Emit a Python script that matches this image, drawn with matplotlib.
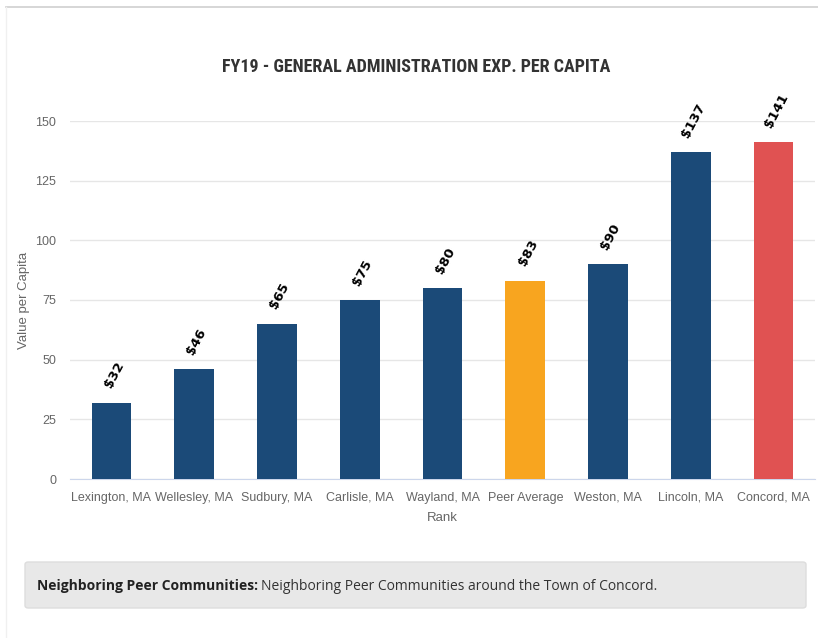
import matplotlib
matplotlib.use("Agg")
import matplotlib.pyplot as plt
from matplotlib import font_manager
from matplotlib.patches import FancyBboxPatch
from matplotlib.lines import Line2D

# FY19 general administration expenditure per capita
communities = ["Lexington, MA", "Wellesley, MA", "Sudbury, MA", "Carlisle, MA",
               "Wayland, MA", "Peer Average", "Weston, MA", "Lincoln, MA", "Concord, MA"]
values = [32, 46, 65, 75, 80, 83, 90, 137, 141]
bar_colors = ["#1b4a78"] * 5 + ["#f8a51f", "#1b4a78", "#1b4a78", "#e05252"]
yticks = [0, 25, 50, 75, 100, 125, 150]

W, H = 818, 638
fig = plt.figure(figsize=(W / 100, H / 100), dpi=100)
fig.patch.set_facecolor("white")

# page frame lines
fig.add_artist(Line2D([6 / W, 1], [1 - 7 / H, 1 - 7 / H], color="#cfcfcf", lw=1.2))
fig.add_artist(Line2D([6 / W, 6 / W], [0, 1 - 7 / H], color="#f0f0f0", lw=1))

ax = fig.add_axes([70 / W, 1 - 479 / H, 745 / W, 358 / H])
x = range(len(communities))
ax.bar(x, values, width=0.48, color=bar_colors, zorder=3)
ax.set_xlim(-0.5, len(communities) - 0.5)
ax.set_ylim(0, 150)
ax.set_yticks(yticks)
ax.set_xticks(list(x))
ax.set_xticklabels(communities, family="Liberation Sans")
for lab in ax.get_yticklabels():
    lab.set_family("Liberation Sans")
ax.grid(axis="y", color="#e6e6e6", lw=1, zorder=0)
for s in ["top", "right", "left"]:
    ax.spines[s].set_visible(False)
ax.spines["bottom"].set_color("#ccd6eb")
ax.tick_params(axis="both", length=0, colors="#666666", labelsize=9)
ax.tick_params(axis="x", pad=9)
ax.tick_params(axis="y", pad=10)
ax.set_xlabel("Rank", color="#666666", fontsize=9.5, labelpad=6, family="Liberation Sans")
ax.set_ylabel("Value per Capita", color="#666666", fontsize=9.5, family="Liberation Sans")
ax.yaxis.set_label_coords(-40 / 745, 0.5)

for i, v in enumerate(values):
    ax.annotate(f"${v}", (i, v), xytext=(2, 9), textcoords="offset points",
                ha="center", va="bottom", rotation=62, fontsize=9.5,
                fontweight="bold", color="black", annotation_clip=False)

# narrowest bold face that is installed
installed = {f.name for f in font_manager.fontManager.ttflist}
title_fam = [f for f in ["Roboto Condensed", "DejaVu Sans Condensed", "Liberation Sans Narrow",
                         "Open Sans Condensed", "Roboto"] if f in installed] or ["DejaVu Sans"]
fig.text(416 / W, 1 - 67 / H, "FY19 - GENERAL ADMINISTRATION EXP. PER CAPITA",
         ha="center", va="center", fontsize=13, fontweight="bold", color="#333333",
         family=title_fam[0], fontstretch="condensed")

# note box under the chart
box = FancyBboxPatch((25 / W, 1 - 608 / H), 781 / W, 46 / H,
                     boxstyle="round,pad=0,rounding_size=0.004",
                     transform=fig.transFigure, facecolor="#e8e8e8",
                     edgecolor="#dddddd", lw=1)
fig.add_artist(box)
t1 = fig.text(37 / W, 1 - 586 / H, "Neighboring Peer Communities:", ha="left",
              va="center", fontsize=10, fontweight="bold", color="#222222",
              family="Open Sans")
fig.canvas.draw()
bb = t1.get_window_extent()
fig.text((bb.x1 + 3) / W, 1 - 586 / H,
         "Neighboring Peer Communities around the Town of Concord.",
         ha="left", va="center", fontsize=10, color="#333333", family="Open Sans")

fig.savefig("out.png", dpi=100)
